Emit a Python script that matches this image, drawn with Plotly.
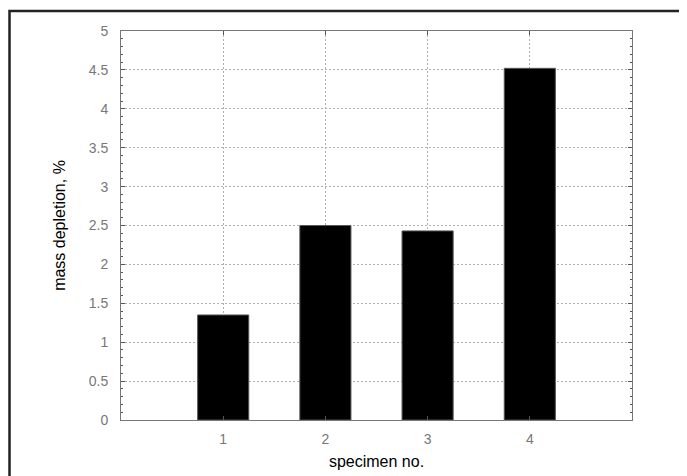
import plotly.graph_objects as go

specimens = [1, 2, 3, 4]
mass_depletion = [1.35, 2.5, 2.43, 4.52]
y_ticks = [0, 0.5, 1, 1.5, 2, 2.5, 3, 3.5, 4, 4.5, 5]
y_tick_labels = ["0", "0.5", "1", "1.5", "2", "2.5", "3", "3.5", "4", "4.5", "5"]

fig = go.Figure(go.Bar(
    x=specimens, y=mass_depletion, width=0.5,
    marker=dict(color="black", line=dict(color="#555", width=1)),
))

# page body has an 8px margin, so the figure is 8px smaller and shifted
OFF = 8
W, H = 687 - OFF, 476 - OFF
L, R, T, B = 121 - OFF, 55, 31 - OFF, 56
pw, ph = W - L - R, H - T - B

fig.update_layout(
    width=W, height=H,
    margin=dict(l=L, r=R, t=T, b=B, autoexpand=False),
    paper_bgcolor="white", plot_bgcolor="white",
    font=dict(family="Liberation Sans, Arial, sans-serif", color="#777", size=14),
    showlegend=False,
    xaxis=dict(
        range=[0, 5], tickvals=specimens, ticktext=[str(s) for s in specimens],
        tickfont=dict(size=14, color="#777"),
        showgrid=True, gridcolor="#b0b0b0", griddash="2px,2px", gridwidth=1,
        showline=True, linecolor="#777", linewidth=1, mirror="ticks",
        ticks="inside", ticklen=4, tickcolor="#555",
        ticklabelstandoff=6, automargin=False,
        zeroline=False,
        title=dict(text="specimen no.", font=dict(color="black", size=16), standoff=10),
    ),
    yaxis=dict(
        range=[0, 5], tickvals=y_ticks, ticktext=y_tick_labels,
        tickfont=dict(size=14, color="#777"),
        showgrid=True, gridcolor="#b0b0b0", griddash="2px,2px", gridwidth=1,
        showline=True, linecolor="#777", linewidth=1, mirror="ticks",
        ticks="inside", ticklen=4, tickcolor="#555",
        ticklabelstandoff=9, automargin=False,
        minor=dict(dtick=0.1, ticks="inside", ticklen=2, tickcolor="#555", showgrid=False),
        zeroline=False,
        title=dict(text="mass depletion, %", font=dict(color="black", size=16), standoff=19),
    ),
)

# outer frame
fig.add_shape(
    type="rect", xref="paper", yref="paper",
    x0=(9.5 - OFF - L) / pw, x1=(W + 10 - L) / pw,
    y0=-(B + 10) / ph, y1=(H - B - (11 - OFF)) / ph,
    line=dict(color="#222", width=2.5), fillcolor="rgba(0,0,0,0)", layer="above",
)

fig.write_html("out.html")
